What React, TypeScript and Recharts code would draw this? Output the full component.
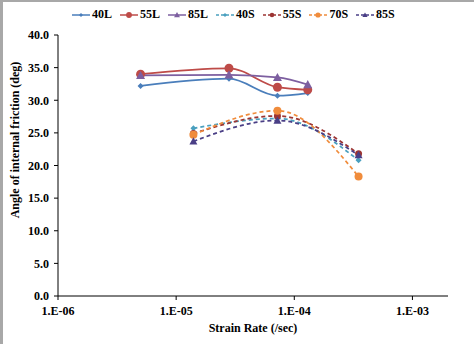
import { Line, LineChart, XAxis, YAxis } from 'recharts'

// strain rates (1/sec) — L tests have 4 rates, S tests have 3
const rateL = [5e-6, 2.8e-5, 7.2e-5, 1.3e-4]
const rateS = [1.4e-5, 7.2e-5, 3.5e-4]

// angle of internal friction (deg)
const phi40L = [32.2, 33.3, 30.7, 31.1]
const phi55L = [34.0, 34.9, 32.0, 31.6]
const phi85L = [33.8, 33.9, 33.5, 32.4]
const phi40S = [25.7, 27.2, 20.8]
const phi55S = [24.9, 27.6, 21.8]
const phi70S = [24.7, 28.4, 18.3]
const phi85S = [23.7, 26.9, 21.6]

const yTicks = [0, 5, 10, 15, 20, 25, 30, 35, 40]
const xTicks = [1e-6, 1e-5, 1e-4, 1e-3]

const FONT = '"Liberation Serif", "Times New Roman", serif'

type Shape = 'diamond' | 'circle' | 'triangle'

interface SeriesDef {
  key: string
  label: string
  color: string
  shape: Shape
  size: number
  dashed: boolean
  rates: number[]
  values: number[]
}

const series: SeriesDef[] = [
  { key: 's40L', label: '40L', color: '#4a7ebb', shape: 'diamond', size: 3, dashed: false, rates: rateL, values: phi40L },
  { key: 's55L', label: '55L', color: '#be4b48', shape: 'circle', size: 4.5, dashed: false, rates: rateL, values: phi55L },
  { key: 's85L', label: '85L', color: '#7d5fa0', shape: 'triangle', size: 4.5, dashed: false, rates: rateL, values: phi85L },
  { key: 's40S', label: '40S', color: '#4aa0bf', shape: 'diamond', size: 3, dashed: true, rates: rateS, values: phi40S },
  { key: 's55S', label: '55S', color: '#9c3533', shape: 'circle', size: 3.5, dashed: true, rates: rateS, values: phi55S },
  { key: 's70S', label: '70S', color: '#f08c3c', shape: 'circle', size: 4, dashed: true, rates: rateS, values: phi70S },
  { key: 's85S', label: '85S', color: '#4a3f86', shape: 'triangle', size: 4, dashed: true, rates: rateS, values: phi85S },
]

function marker(shape: Shape, cx: number, cy: number, s: number, color: string) {
  if (shape === 'circle') return <circle cx={cx} cy={cy} r={s} fill={color} />
  if (shape === 'triangle')
    return <polygon points={`${cx},${cy - s} ${cx + s},${cy + s * 0.8} ${cx - s},${cy + s * 0.8}`} fill={color} />
  return <polygon points={`${cx},${cy - s} ${cx + s},${cy} ${cx},${cy + s} ${cx - s},${cy}`} fill={color} />
}

const fmtRate = (v: number) => `1.E${Math.round(Math.log10(v)) < 0 ? '-' : '+'}${String(Math.abs(Math.round(Math.log10(v)))).padStart(2, '0')}`

const tickStyle = { fontSize: 12, fontWeight: 700, fill: '#000', fontFamily: FONT }

function LegendRow() {
  return (
    <div style={{ position: 'absolute', top: 7, left: 72, display: 'flex', fontFamily: FONT, fontSize: 12, fontWeight: 700 }}>
      {series.map((s) => (
        <div key={s.key} style={{ display: 'flex', alignItems: 'center', marginRight: 8 }}>
          <svg width={18} height={12}>
            <line x1={0} y1={6} x2={18} y2={6} stroke={s.color} strokeWidth={1.5} strokeDasharray={s.dashed ? '3 2' : undefined} />
            {marker(s.shape, 9, 6, s.size * 0.65, s.color)}
          </svg>
          <span style={{ marginLeft: 2 }}>{s.label}</span>
        </div>
      ))}
    </div>
  )
}

export default function App() {
  return (
    <div style={{ position: 'absolute', top: 0, left: 0, width: 474, height: 344, background: '#fff' }}>
      <div style={{ position: 'absolute', top: 0, left: 0, width: 474, height: 2, background: '#a8a8a8' }} />
      <div style={{ position: 'absolute', top: 0, left: 0, width: 3, height: 344, background: '#a8a8a8' }} />
      <LineChart width={474} height={344} margin={{ top: 35, right: 26, bottom: 0, left: 0 }}>
        <XAxis
          dataKey="x"
          type="number"
          scale="log"
          domain={[1e-6, 2e-3]}
          allowDataOverflow
          ticks={xTicks}
          tickFormatter={fmtRate}
          tick={tickStyle}
          stroke="#000"
          tickSize={4}
          tickMargin={6}
          height={48}
          label={{
            content: () => (
              <text x={253} y={332} textAnchor="middle" fontFamily={FONT} fontSize={12} fontWeight={700} fill="#000">
                Strain Rate (/sec)
              </text>
            ),
          }}
        />
        <YAxis
          type="number"
          domain={[0, 40]}
          ticks={yTicks}
          tickFormatter={(v: number) => v.toFixed(1)}
          tick={tickStyle}
          stroke="#000"
          tickSize={4}
          tickMargin={5}
          width={58}
          label={{
            content: () => (
              <text transform="translate(19,140) rotate(-90)" textAnchor="middle" fontFamily={FONT} fontSize={12} fontWeight={700} fill="#000">
                Angle of internal friction (deg)
              </text>
            ),
          }}
        />
        {series.map((s) => (
          <Line
            key={s.key}
            data={s.rates.map((x, i) => ({ x, y: s.values[i] }))}
            dataKey="y"
            name={s.label}
            type="monotone"
            stroke={s.color}
            strokeWidth={1.75}
            strokeDasharray={s.dashed ? '4 3' : undefined}
            dot={(p: any) => <g key={`${s.key}-${p.index}`}>{marker(s.shape, p.cx, p.cy, s.size, s.color)}</g>}
            isAnimationActive={false}
          />
        ))}
      </LineChart>
      <LegendRow />
    </div>
  )
}
